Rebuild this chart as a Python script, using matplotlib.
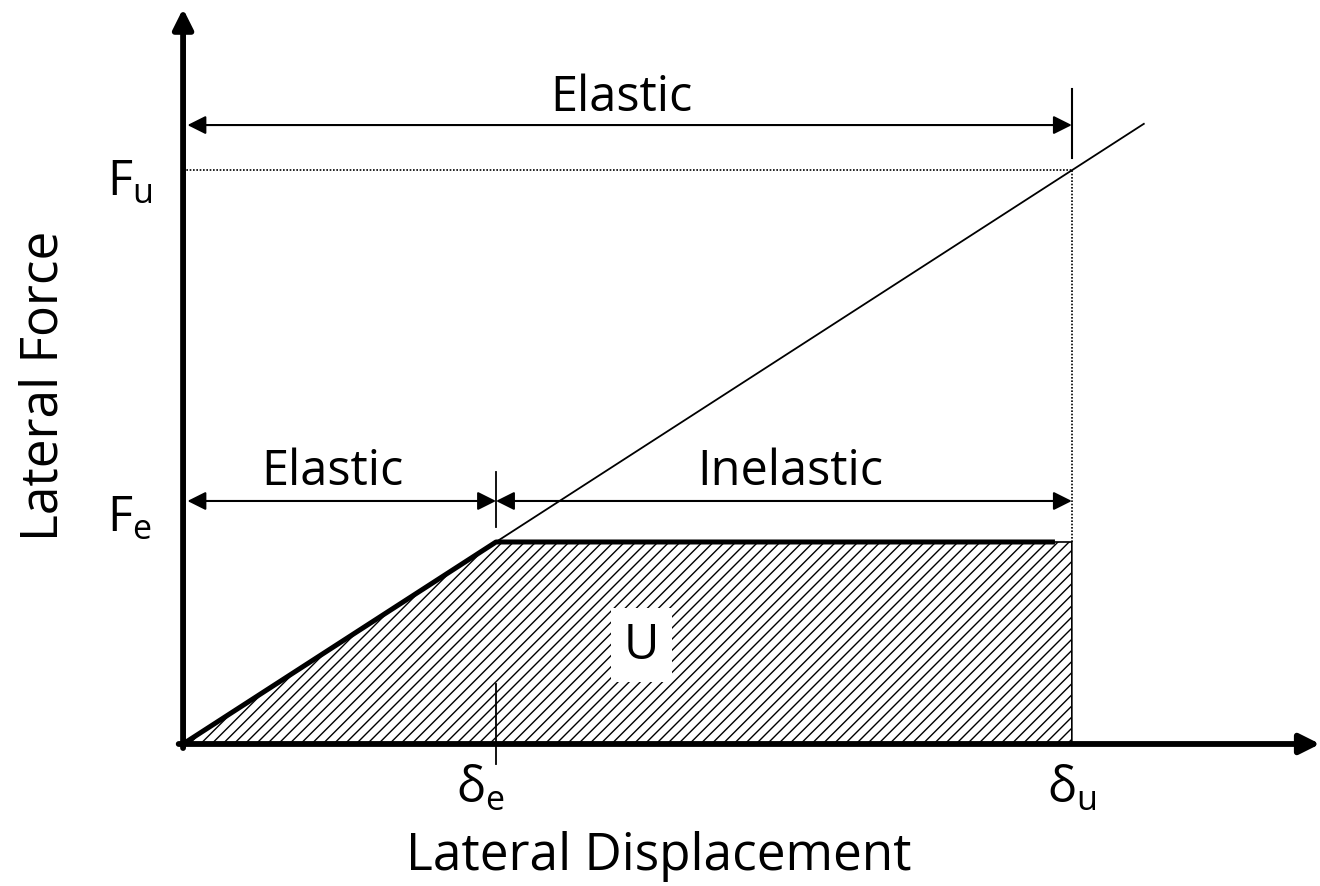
import matplotlib.pyplot as plt
from matplotlib.patches import Polygon

plt.rcParams["font.family"] = ["Open Sans", "DejaVu Sans"]
plt.rcParams["mathtext.fontset"] = "custom"
plt.rcParams["mathtext.rm"] = "Open Sans"
plt.rcParams["hatch.linewidth"] = 1.0

# idealised elastic-perfectly-plastic response (normalised by yield)
delta_e = 1.0
delta_u = 2.84
F_e = 1.0
F_u = 2.84
plateau_end = 2.786
elastic_end = 3.07

curve_x = [0, delta_e, plateau_end]
curve_y = [0, F_e, F_e]

fig = plt.figure(figsize=(13.2, 8.87), dpi=100)
ax = fig.add_axes([0, 0, 1, 1])
ax.set_xlim(-0.585, 3.633)
ax.set_ylim(-0.703, 3.688)
ax.axis("off")

# hatched energy area U
area = Polygon([(0, 0), (delta_e, F_e), (delta_u, F_e), (delta_u, 0)],
               closed=True, facecolor="white", edgecolor="black",
               hatch="///", linewidth=1.2)
ax.add_patch(area)

# extended elastic line
ax.plot([0, elastic_end], [0, elastic_end * F_e / delta_e], color="black", lw=1.3)

# bilinear curve
ax.plot(curve_x, curve_y, color="black", lw=3.6, solid_capstyle="butt")

# dotted guides
ax.plot([0, delta_u], [F_u, F_u], color="black", lw=1.2, ls=(0, (1, 1)))
ax.plot([delta_u, delta_u], [F_e, F_u], color="black", lw=1.2, ls=(0, (1, 1)))

# axes with arrows
ax.annotate("", xy=(0, 3.64), xytext=(0, -0.02),
            arrowprops=dict(arrowstyle="-|>", lw=4.2, color="black",
                            mutation_scale=30, shrinkA=0, shrinkB=0))
ax.annotate("", xy=(3.633, 0), xytext=(-0.014, 0),
            arrowprops=dict(arrowstyle="-|>", lw=4.2, color="black",
                            mutation_scale=30, shrinkA=0, shrinkB=0))

# dimension lines
def dim(x0, x1, y):
    ax.annotate("", xy=(x1, y), xytext=(x0, y),
                arrowprops=dict(arrowstyle="<|-|>", lw=1.5, color="black",
                                mutation_scale=28, shrinkA=0, shrinkB=0))

dim(0.014, delta_u, 3.064)
dim(0.014, delta_e, 1.203)
dim(delta_e, delta_u, 1.203)

# tick marks
ax.plot([delta_u, delta_u], [2.90, 3.24], color="black", lw=1.5)
ax.plot([delta_e, delta_e], [1.074, 1.347], color="black", lw=1.3)
ax.plot([delta_e, delta_e], [-0.10, 0.297], color="black", lw=1.3)

fs = 35
ax.text(1.40, 3.20, "Elastic", fontsize=fs, ha="center", va="center")
ax.text(0.476, 1.35, "Elastic", fontsize=fs, ha="center", va="center")
ax.text(1.94, 1.35, "Inelastic", fontsize=fs, ha="center", va="center")
ax.text(1.466, 0.49, "U", fontsize=fs, ha="center", va="center",
        bbox=dict(facecolor="white", edgecolor="none", pad=9))

ax.text(0.95, -0.22, r"δ$_\mathregular{e}$", fontsize=fs, ha="center", va="center")
ax.text(2.84, -0.22, r"δ$_\mathregular{u}$", fontsize=fs, ha="center", va="center")
ax.text(-0.17, 2.78, r"F$_\mathregular{u}$", fontsize=fs, ha="center", va="center")
ax.text(-0.17, 1.12, r"F$_\mathregular{e}$", fontsize=fs, ha="center", va="center")

ax.text(1.52, -0.55, "Lateral Displacement", fontsize=37, ha="center", va="center")
ax.text(-0.445, 1.78, "Lateral Force", fontsize=37, ha="center", va="center",
        rotation=90)

fig.savefig("out.png", dpi=100)
